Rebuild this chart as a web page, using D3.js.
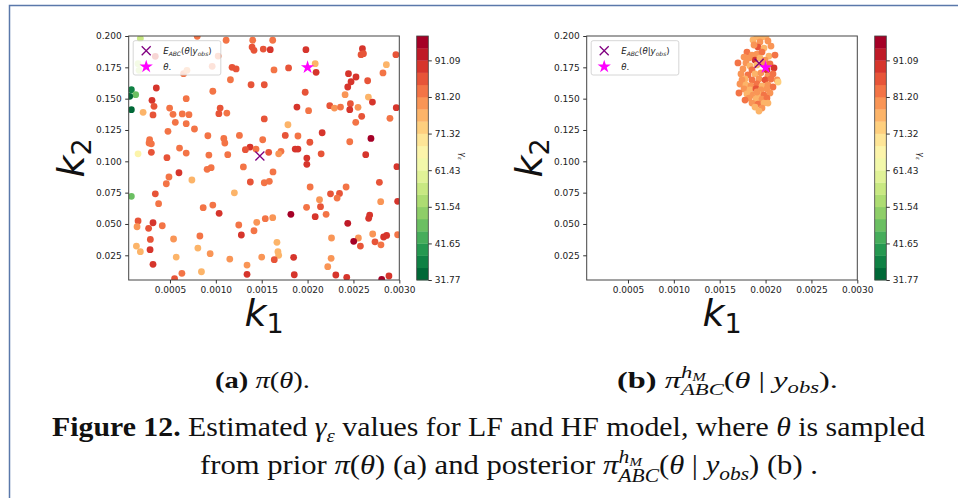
<!DOCTYPE html>
<html>
<head>
<meta charset="utf-8">
<title>Figure 12</title>
<script src="https://cdnjs.cloudflare.com/ajax/libs/d3/7.8.5/d3.min.js"></script>
<style>
    body { margin: 0; background: #fff; }
    svg { display: block; }
    .tick text { font-family: "DejaVu Sans", sans-serif; font-size: 9px; fill: #222; }
    .tick line { stroke: #333; }
    .cap text { font-family: "Liberation Serif", serif; fill: #111; white-space: pre; }
</style>
</head>
<body>
<svg id="fig" width="958" height="498"></svg>
<script>
// axis ticks
const k1Ticks = [0.0005, 0.0010, 0.0015, 0.0020, 0.0025, 0.0030];
const k2Ticks = [0.025, 0.050, 0.075, 0.100, 0.125, 0.150, 0.175, 0.200];
const gammaTicks = [31.77, 41.65, 51.54, 61.43, 71.32, 81.20, 91.09];

// (a) samples from the prior
const priorK1 = [
    0.000177, 0.000797, 0.001112, 0.001402, 0.001395, 0.001416, 0.001517, 0.00034, 0.00096, 0.001025,
    0.000648, 0.000685, 0.000152, 0.000163, 0.001177, 0.001221, 0.001159, 0.001384, 0.001528, 0.000079,
    0.000126, 0.000061, 0.000079, 0.000351, 0.000967, 0.000677, 0.000304, 0.000326, 0.000315, 0.000496,
    0.000207, 0.000533, 0.000634, 0.000707, 0.001033, 0.001047, 0.00112, 0.001528, 0.000558, 0.000677,
    0.000767, 0.000478, 0.000913, 0.001257, 0.001087, 0.001098, 0.001511, 0.000278, 0.000272, 0.000297,
    0.000604, 0.001373, 0.001322, 0.001438, 0.000152, 0.000297, 0.000677, 0.000467, 0.000924, 0.00113,
    0.00162, 0.001593, 0.001982, 0.002598, 0.002583, 0.002609, 0.002963, 0.002083, 0.002093, 0.001793,
    0.001634, 0.001974, 0.002446, 0.002528, 0.002474, 0.002438, 0.002655, 0.002859, 0.002822, 0.002409,
    0.002663, 0.002707, 0.001884, 0.002011, 0.002242, 0.002293, 0.002359, 0.002467, 0.00246, 0.00255,
    0.00259, 0.002525, 0.002967, 0.002898, 0.001786, 0.002159, 0.001757, 0.001895, 0.002025, 0.00246,
    0.002691, 0.001865, 0.001895, 0.00171, 0.001576, 0.002148, 0.002634, 0.001685, 0.001992,
    0.000598, 0.000489, 0.00046, 0.000739, 0.000905, 0.000949, 0.0013, 0.001376, 0.001528, 0.000079,
    0.00034, 0.000376, 0.001202, 0.000862, 0.000967, 0.001036, 0.000152, 0.000141, 0.000315, 0.000267,
    0.000416, 0.00125, 0.001278, 0.001416, 0.001446, 0.001539, 0.000286, 0.000539, 0.000826, 0.000134,
    0.000177, 0.000283, 0.000804, 0.000938, 0.000568, 0.001152, 0.0015, 0.000315, 0.00134, 0.00063,
    0.000843, 0.00134, 0.00055,
    0.001992, 0.002974, 0.001623, 0.001583, 0.002028, 0.00242, 0.002783, 0.00225, 0.002348, 0.002322,
    0.00213, 0.001989, 0.002141, 0.002797, 0.002982, 0.001818, 0.002083, 0.002202, 0.00162, 0.002677,
    0.002666, 0.002438, 0.002982, 0.002261, 0.002554, 0.00271, 0.002503, 0.002576, 0.002735, 0.0028,
    0.002829, 0.002862, 0.001666, 0.001677, 0.001685, 0.001637, 0.001848, 0.002257, 0.00222, 0.001855,
    0.002308, 0.002427, 0.002808, 0.002887
];
const priorK2 = [
    0.198, 0.1998, 0.1966, 0.1966, 0.1912, 0.1886, 0.1896, 0.1838, 0.1758, 0.184,
    0.1699, 0.1726, 0.1779, 0.1726, 0.175, 0.1737, 0.1651, 0.1611, 0.1611, 0.1571,
    0.1532, 0.1519, 0.1412, 0.1585, 0.1559, 0.15, 0.1487, 0.1439, 0.137, 0.1425,
    0.1391, 0.1375, 0.1378, 0.1372, 0.138, 0.1425, 0.1385, 0.1338, 0.1311, 0.13,
    0.1258, 0.1239, 0.1204, 0.1207, 0.1183, 0.1146, 0.1172, 0.1172, 0.1146, 0.114,
    0.1106, 0.1114, 0.1093, 0.1098, 0.106, 0.1072, 0.1066, 0.1029, 0.105, 0.1053,
    0.1966, 0.1891, 0.1891, 0.1899, 0.1851, 0.1859, 0.1851, 0.1779, 0.171, 0.1745,
    0.1729, 0.1551, 0.1699, 0.1673, 0.1635, 0.1593, 0.1643, 0.1771, 0.1705, 0.1532,
    0.1513, 0.1473, 0.1433, 0.1404, 0.1444, 0.1425, 0.1433, 0.146, 0.1412, 0.1431,
    0.1359, 0.1311, 0.1428, 0.1343, 0.1292, 0.1228, 0.1207, 0.1202, 0.1152, 0.1156,
    0.1183, 0.1098, 0.1098, 0.108, 0.1072, 0.106, 0.1053, 0.106, 0.1026,
    0.0909, 0.0875, 0.0821, 0.0851, 0.0936, 0.0949, 0.0955, 0.0835, 0.0829, 0.0721,
    0.0741, 0.0662, 0.0749, 0.063, 0.0651, 0.0585, 0.0524, 0.0478, 0.051, 0.0465,
    0.0486, 0.0492, 0.0412, 0.0446, 0.0513, 0.0542, 0.0377, 0.038, 0.0404, 0.0324,
    0.0279, 0.0295, 0.0308, 0.0263, 0.0236, 0.022, 0.0236, 0.0178, 0.0172, 0.0106,
    0.0119, 0.0098, 0.0063,
    0.0976, 0.0957, 0.0915, 0.084, 0.0795, 0.0795, 0.0832, 0.0741, 0.0744, 0.0707,
    0.0694, 0.0633, 0.0638, 0.0678, 0.0681, 0.0577, 0.0558, 0.0577, 0.055, 0.0571,
    0.0545, 0.0505, 0.0414, 0.0388, 0.0388, 0.042, 0.0362, 0.0324, 0.0358, 0.0334,
    0.0396, 0.0409, 0.0354, 0.0279, 0.025, 0.0215, 0.0234, 0.0226, 0.0159, 0.0095,
    0.0093, 0.0074, 0.0058, 0.0085
];
const priorGamma = [
    55, 84, 84, 84, 85, 85, 85, 90, 84, 82,
    84, 80, 58, 58, 85, 85, 84, 85, 85, 36,
    47, 33, 35, 89, 84, 84, 88, 86, 85, 84,
    75, 84, 84, 84, 87, 85, 84, 87, 84, 84,
    84, 84, 84, 84, 84, 84, 84, 83, 84, 84,
    84, 90, 85, 84, 65, 85, 84, 85, 84, 84,
    84, 89, 88, 89, 85, 85, 87, 77, 90, 85,
    84, 87, 89, 88, 88, 90, 87, 77, 84, 79,
    77, 88, 89, 82, 85, 78, 84, 87, 91, 79,
    87, 84, 88, 84, 77, 88, 85, 84, 85, 84,
    96, 88, 88, 84, 87, 87, 90, 78, 89,
    88, 84, 84, 77, 84, 84, 84, 85, 84, 45,
    85, 84, 77, 82, 84, 88, 87, 78, 91, 87,
    84, 84, 91, 84, 80, 84, 87, 78, 84, 77,
    76, 90, 76, 78, 77, 79, 81, 88, 79, 84,
    76, 91, 87,
    89, 91, 84, 84, 84, 84, 87, 87, 87, 84,
    78, 83, 87, 79, 90, 96, 89, 84, 79, 88,
    88, 92, 84, 78, 79, 79, 96, 87, 87, 84,
    88, 90, 77, 77, 77, 87, 88, 78, 78, 90,
    90, 88, 95, 91
];

// (b) samples from the ABC posterior
const postK1 = [
    0.001906, 0.001961, 0.002004, 0.001863, 0.001939, 0.002026, 0.001917, 0.001983, 0.002059, 0.001874,
    0.001797, 0.001852, 0.001906, 0.001961, 0.002037, 0.002103, 0.001765, 0.001885, 0.001819, 0.001939,
    0.001994, 0.001699, 0.001786, 0.00183, 0.001906, 0.001972, 0.002048, 0.002092, 0.001754, 0.001852,
    0.002015, 0.001732, 0.001808, 0.001885, 0.00195, 0.002026, 0.002081, 0.001776, 0.001852, 0.001928,
    0.001994, 0.002059, 0.002125, 0.002136, 0.001743, 0.001721, 0.001786, 0.001841, 0.001906, 0.001961,
    0.002026, 0.002081, 0.001765, 0.00183, 0.001895, 0.00195, 0.002015, 0.00171, 0.001797, 0.001863,
    0.001917, 0.001983, 0.002048, 0.001906, 0.001819, 0.001895, 0.001961, 0.002015, 0.001776, 0.001852,
    0.001917, 0.001983, 0.002026, 0.001885, 0.001961, 0.001928
];
const postK2 = [
    0.1995, 0.1992, 0.1997, 0.1968, 0.1952, 0.196, 0.1912, 0.1904, 0.192, 0.1928,
    0.1872, 0.1848, 0.1856, 0.1872, 0.184, 0.1848, 0.1832, 0.1808, 0.1824, 0.1824,
    0.1808, 0.1785, 0.1785, 0.1761, 0.1769, 0.1785, 0.1777, 0.1745, 0.1737, 0.1729,
    0.1729, 0.1697, 0.1689, 0.1697, 0.1705, 0.1681, 0.1697, 0.1657, 0.1649, 0.1657,
    0.1649, 0.1657, 0.1649, 0.1633, 0.1649, 0.1617, 0.1609, 0.1601, 0.1617, 0.1601,
    0.1609, 0.1593, 0.1577, 0.1569, 0.1577, 0.1569, 0.1577, 0.1545, 0.1537, 0.1529,
    0.1537, 0.1529, 0.1545, 0.1553, 0.1505, 0.1497, 0.1497, 0.1505, 0.1489, 0.1465,
    0.1457, 0.1465, 0.1465, 0.1433, 0.1425, 0.1401
];
const postGamma = [
    76, 77, 75, 77, 78, 79, 86, 77, 80, 78,
    82, 80, 78, 84, 77, 82, 81, 88, 79, 77,
    81, 83, 80, 77, 76, 79, 84, 89, 79, 82,
    88, 78, 83, 77, 80, 79, 84, 76, 84, 78,
    86, 82, 78, 74, 80, 81, 77, 79, 82, 76,
    80, 83, 80, 76, 85, 78, 79, 84, 77, 81,
    76, 83, 78, 79, 80, 77, 80, 82, 82, 78,
    84, 76, 77, 77, 79, 75
];

const thetaTrue = [0.0020, 0.175];
const priorMean = [0.00148, 0.1042];
const postMean = [0.00193, 0.1782];

// ---------------------------------------------------------------
const svg = d3.select("#fig");
const gammaDomain = [31.77, 97.67];
const nLevels = 20;
const cmap = d3.scaleQuantize()
    .domain(gammaDomain)
    .range(d3.range(nLevels).map(i => d3.interpolateRdYlGn(1 - i / (nLevels - 1))));

// page frame
svg.append("path")
    .attr("d", "M9.5,498V5.5H958")
    .attr("fill", "none")
    .attr("stroke", "#5a78aa")
    .attr("stroke-width", 1.5);

const plotTop = 36, plotH = 244, plotW = 270.6;

function drawPanel(left, k1, k2, gam, mean, id) {
    const g = svg.append("g");
    const x = d3.scaleLinear().domain([0.00005, 0.003]).range([left, left + plotW]);
    const y = d3.scaleLinear().domain([0.0053, 0.2]).range([plotTop + plotH, plotTop]);

    g.append("clipPath").attr("id", "clip" + id)
        .append("rect").attr("x", left).attr("y", plotTop).attr("width", plotW).attr("height", plotH);

    const pts = g.append("g").attr("clip-path", `url(#clip${id})`);
    pts.selectAll("circle")
        .data(d3.range(k1.length))
        .join("circle")
        .attr("cx", i => x(k1[i]))
        .attr("cy", i => y(k2[i]))
        .attr("r", 3.4)
        .attr("fill", i => cmap(gam[i]));

    // mean estimate (x) and true theta (star)
    pts.append("path")
        .attr("transform", `translate(${x(mean[0])},${y(mean[1])})`)
        .attr("d", "M-4.5,-4.5L4.5,4.5M-4.5,4.5L4.5,-4.5")
        .attr("stroke", "#800080").attr("stroke-width", 1.3).attr("fill", "none");
    pts.append("path")
        .attr("transform", `translate(${x(thetaTrue[0])},${y(thetaTrue[1])})`)
        .attr("d", d3.symbol(d3.symbolStar, 55)())
        .attr("fill", "#ff00ff");

    g.append("rect")
        .attr("x", left).attr("y", plotTop).attr("width", plotW).attr("height", plotH)
        .attr("fill", "none").attr("stroke", "#444").attr("stroke-width", 1);

    g.append("g")
        .attr("transform", `translate(${left},0)`)
        .call(d3.axisLeft(y).tickValues(k2Ticks).tickFormat(d3.format(".3f")).tickSize(3.5).tickPadding(3.5))
        .call(a => a.select(".domain").remove());
    g.append("g")
        .attr("transform", `translate(0,${plotTop + plotH})`)
        .call(d3.axisBottom(x).tickValues(k1Ticks).tickFormat(d3.format(".4f")).tickSize(3.5).tickPadding(3))
        .call(a => a.select(".domain").remove());

    // legend
    const lg = g.append("g").attr("transform", `translate(${left + 4.5},${plotTop + 4.7})`);
    lg.append("rect")
        .attr("width", 87.6).attr("height", 34.3).attr("rx", 2)
        .attr("fill", "#fff").attr("fill-opacity", 0.8)
        .attr("stroke", "#ccc").attr("stroke-width", 0.8);
    lg.append("path")
        .attr("transform", "translate(13,10)")
        .attr("d", "M-4.5,-4.5L4.5,4.5M-4.5,4.5L4.5,-4.5")
        .attr("stroke", "#800080").attr("stroke-width", 1.3).attr("fill", "none");
    lg.append("path")
        .attr("transform", "translate(13,26)")
        .attr("d", d3.symbol(d3.symbolStar, 55)())
        .attr("fill", "#ff00ff");
    const lt1 = lg.append("text").attr("x", 30).attr("y", 13.3)
        .style("font-family", "DejaVu Sans").style("font-size", "8.6px").style("fill", "#222");
    lt1.append("tspan").style("font-style", "italic").text("E");
    lt1.append("tspan").attr("dy", 1.6).style("font-size", "6px").style("font-style", "italic").text("ABC");
    lt1.append("tspan").attr("dy", -1.6).text("(");
    lt1.append("tspan").style("font-style", "italic").text("θ");
    lt1.append("tspan").text("|");
    lt1.append("tspan").style("font-style", "italic").text("y");
    lt1.append("tspan").attr("dy", 1.6).style("font-size", "6px").style("font-style", "italic").text("obs");
    lt1.append("tspan").attr("dy", -1.6).text(")");
    lg.append("text").attr("x", 30).attr("y", 29)
        .style("font-family", "DejaVu Sans").style("font-size", "8.6px").style("fill", "#222")
        .call(t => t.append("tspan").style("font-style", "italic").text("θ"))
        .call(t => t.append("tspan").text("."));

    // colorbar
    const cbX = left + 288, cbW = 11.6;
    const cy = d3.scaleLinear().domain(gammaDomain).range([plotTop + plotH, plotTop]);
    const edges = [gammaDomain[0]].concat(cmap.thresholds(), [gammaDomain[1]]);
    g.append("g").selectAll("rect")
        .data(d3.range(nLevels))
        .join("rect")
        .attr("x", cbX)
        .attr("y", i => cy(edges[i + 1]))
        .attr("width", cbW)
        .attr("height", i => cy(edges[i]) - cy(edges[i + 1]) + 0.3)
        .attr("fill", i => cmap.range()[i]);
    g.append("rect")
        .attr("x", cbX).attr("y", plotTop).attr("width", cbW).attr("height", plotH)
        .attr("fill", "none").attr("stroke", "#444").attr("stroke-width", 0.8);
    g.append("g")
        .attr("transform", `translate(${cbX + cbW},0)`)
        .call(d3.axisRight(cy).tickValues(gammaTicks).tickFormat(d3.format(".2f")).tickSize(3.5).tickPadding(3))
        .call(a => a.select(".domain").remove());
    const gl = g.append("text")
        .attr("transform", `translate(${cbX + 43},${plotTop + 120}) rotate(90)`)
        .style("font-family", "DejaVu Sans").style("font-size", "8px").style("fill", "#222")
        .attr("text-anchor", "middle");
    gl.append("tspan").style("font-style", "italic").text("γ");
    gl.append("tspan").attr("dy", 1.5).style("font-size", "5.5px").style("font-style", "italic").text("ε");

    // axis labels
    const yl = g.append("text")
        .attr("transform", `translate(${left - 45},${plotTop + plotH / 2}) rotate(-90)`)
        .attr("text-anchor", "middle")
        .style("font-family", "DejaVu Sans").style("font-size", "38px").style("fill", "#111");
    yl.append("tspan").style("font-style", "italic").text("k");
    yl.append("tspan").attr("dy", 7).style("font-size", "27px").text("2");
    const xl = g.append("text")
        .attr("transform", `translate(${left + plotW / 2},326)`)
        .attr("text-anchor", "middle")
        .style("font-family", "DejaVu Sans").style("font-size", "38px").style("fill", "#111");
    xl.append("tspan").style("font-style", "italic").text("k");
    xl.append("tspan").attr("dy", 7).style("font-size", "27px").text("1");
}

drawPanel(128.7, priorK1, priorK2, priorGamma, priorMean, "a");
drawPanel(586.7, postK1, postK2, postGamma, postMean, "b");

// --- captions, laid out piece by piece so sub/superscripts can stack
function richLine(cx, baseY, fs, targetW, parts) {
    const g = svg.append("g").attr("class", "cap");
    const inner = g.append("g");
    let x = 0, mark = 0, xMax = 0;
    parts.forEach(p => {
        if (p.mark) mark = x;
        if (p.reset) x = mark;
        const t = inner.append("text")
            .attr("x", x)
            .attr("y", (p.dy || 0) * fs)
            .attr("xml:space", "preserve")
            .style("font-size", (p.s || 1) * fs + "px")
            .style("font-weight", p.b ? "bold" : null)
            .style("font-style", p.i ? "italic" : null)
            .text(p.t);
        x += t.node().getComputedTextLength();
        xMax = Math.max(xMax, x);
        x = xMax;
    });
    const sx = targetW / xMax;
    g.attr("transform", `translate(${cx - targetW / 2},${baseY}) scale(${sx},1)`);
}

const piABC = [
    { t: "π", i: true },
    { t: "h", i: true, s: 0.7, dy: -0.42, mark: true },
    { t: "M", i: true, s: 0.5, dy: -0.3 },
    { t: "ABC", i: true, s: 0.7, dy: 0.28, reset: true }
];

richLine(262.5, 388, 24, 95, [
    { t: "(a)", b: true }, { t: " " }, { t: "π", i: true }, { t: "(" }, { t: "θ", i: true }, { t: ")." }
]);
richLine(727.5, 388, 24, 221, [
    { t: "(b)", b: true }, { t: " " }].concat(piABC, [
    { t: "(" }, { t: "θ", i: true }, { t: " | " }, { t: "y", i: true },
    { t: "obs", i: true, s: 0.7, dy: 0.22 }, { t: ")." }
]));
richLine(488.5, 436, 27, 873, [
    { t: "Figure 12.", b: true }, { t: " Estimated " }, { t: "γ", i: true },
    { t: "ε", i: true, s: 0.7, dy: 0.22 },
    { t: " values for LF and HF model, where " }, { t: "θ", i: true }, { t: " is sampled" }
]);
richLine(509, 474, 27, 618, [
    { t: "from prior " }, { t: "π", i: true }, { t: "(" }, { t: "θ", i: true }, { t: ") (a) and posterior " }
].concat(piABC, [
    { t: "(" }, { t: "θ", i: true }, { t: " | " }, { t: "y", i: true },
    { t: "obs", i: true, s: 0.7, dy: 0.22 }, { t: ") (b) ." }
]));
</script>
</body>
</html>
